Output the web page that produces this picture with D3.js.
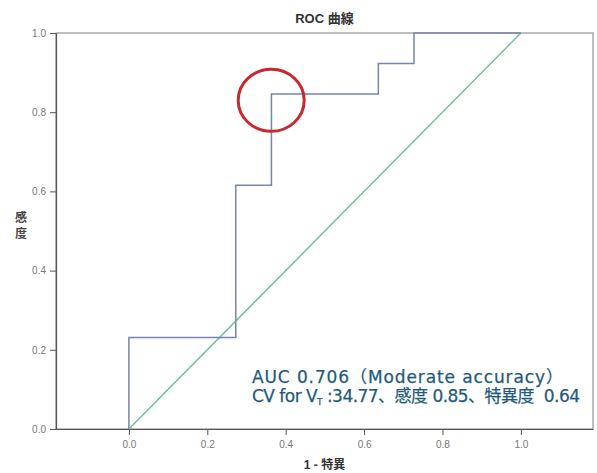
<!DOCTYPE html>
<html>
<head>
<meta charset="utf-8">
<script src="https://cdn.jsdelivr.net/npm/d3@7"></script>
<style>
  html, body { margin: 0; padding: 0; background: #ffffff; }
  svg { display: block; }
  .ann { white-space: pre; }
</style>
</head>
<body>
<svg id="chart" width="597" height="473"></svg>
<script>
// ---- data ----
const title = "ROC 曲線";
const xLabel = "1 - 特異";
const yLabel = ["感", "度"];
// ROC curve (1 - specificity, sensitivity)
const rocFpr = [0, 0, 0.2727, 0.2727, 0.3636, 0.3636, 0.6364, 0.6364, 0.7273, 0.7273, 1.0];
const rocTpr = [0, 0.2308, 0.2308, 0.6154, 0.6154, 0.8462, 0.8462, 0.9231, 0.9231, 1.0, 1.0];
// reference diagonal
const diagFpr = [0, 1];
const diagTpr = [0, 1];
const xTicks = [0, 0.2, 0.4, 0.6, 0.8, 1.0];
const yTicks = [0, 0.2, 0.4, 0.6, 0.8, 1.0];
const highlight = [0.363, 0.83]; // circled cut-off point
const annotation = ["AUC 0.706（Moderate accuracy）", "CV for V", "T", " :34.77、感度 0.85、特異度  0.64"];

// ---- layout ----
const plotL = 56, plotR = 593, plotT = 33, plotB = 429;
const svg = d3.select("#chart");
const x = d3.scaleLinear().domain([-0.186, 1.184]).range([plotL, plotR]);
const y = d3.scaleLinear().domain([0, 1]).range([plotB, plotT]);

// frame
svg.append("rect")
  .attr("x", plotL).attr("y", plotT)
  .attr("width", plotR - plotL).attr("height", plotB - plotT)
  .attr("fill", "#ffffff").attr("stroke", "#808080").attr("stroke-width", 1);

// axes
const fmt = d3.format(".1f");
const xAxis = svg.append("g").attr("transform", `translate(0,${plotB})`)
  .call(d3.axisBottom(x).tickValues(xTicks).tickFormat(fmt).tickSize(6).tickSizeOuter(0));
const yAxis = svg.append("g").attr("transform", `translate(${plotL},0)`)
  .call(d3.axisLeft(y).tickValues(yTicks).tickFormat(fmt).tickSize(6).tickSizeOuter(0));
[xAxis, yAxis].forEach(g => {
  g.select(".domain").attr("stroke", "#555").attr("stroke-width", 1.2);
  g.selectAll(".tick line").attr("stroke", "#555");
  g.selectAll(".tick text")
    .attr("fill", "#777").attr("font-size", 10)
    .attr("font-family", "Liberation Sans, Arial, sans-serif");
});
xAxis.selectAll(".tick text").attr("dy", "1.0em");
yAxis.selectAll(".tick text").attr("dx", "-1px");

// lines
const line = d3.line().x(d => x(d[0])).y(d => y(d[1]));
svg.append("path")
  .datum(diagFpr.map((v, i) => [v, diagTpr[i]]))
  .attr("d", line).attr("fill", "none")
  .attr("stroke", "#72c196").attr("stroke-width", 1.5);
svg.append("path")
  .datum(rocFpr.map((v, i) => [v, rocTpr[i]]))
  .attr("d", line).attr("fill", "none")
  .attr("stroke", "#7585ad").attr("stroke-width", 1.5);

// highlight circle
svg.append("ellipse")
  .attr("cx", x(highlight[0])).attr("cy", y(highlight[1]))
  .attr("rx", 33).attr("ry", 31)
  .attr("fill", "none").attr("stroke", "#c8282e").attr("stroke-width", 3);

// title
svg.append("text")
  .attr("x", (plotL + plotR) / 2).attr("y", 23)
  .attr("text-anchor", "middle")
  .attr("font-family", "Liberation Sans, 'Noto Sans CJK JP', sans-serif")
  .attr("font-weight", "bold").attr("font-size", 13).attr("fill", "#333")
  .text(title);

// x label
svg.append("text")
  .attr("x", (plotL + plotR) / 2).attr("y", 469)
  .attr("text-anchor", "middle")
  .attr("font-family", "Liberation Sans, 'Noto Sans CJK JP', sans-serif")
  .attr("font-weight", "bold").attr("font-size", 12).attr("fill", "#333")
  .text(xLabel);

// y label (stacked)
svg.append("g").selectAll("text").data(yLabel).join("text")
  .attr("x", 21).attr("y", (d, i) => 222 + i * 16)
  .attr("text-anchor", "middle")
  .attr("font-family", "'Noto Sans CJK JP', sans-serif")
  .attr("font-weight", "bold").attr("font-size", 12).attr("fill", "#444")
  .text(d => d);

// annotation
const annFont = "'DejaVu Sans', 'Noto Sans CJK JP', sans-serif";
const annColor = "#1f5b7a";
const a1 = svg.append("text").attr("class", "ann")
  .attr("x", 252).attr("y", 383)
  .attr("font-family", annFont).attr("font-size", 17).attr("fill", annColor)
  .attr("stroke", annColor).attr("stroke-width", 0.25)
  .text(annotation[0]);
const a2 = svg.append("text").attr("class", "ann")
  .attr("x", 252).attr("y", 402)
  .attr("font-family", annFont).attr("font-size", 17).attr("fill", annColor)
  .attr("stroke", annColor).attr("stroke-width", 0.25);
a2.append("tspan").text(annotation[1]);
a2.append("tspan").attr("font-size", 9).attr("dy", 3).text(annotation[2]);
a2.append("tspan").attr("dy", -3).text(annotation[3]);

// stretch each line to the width seen in the reference
function fit(sel, target, nChars) {
  const w = sel.node().getComputedTextLength();
  const ls = Math.max(-1.5, Math.min(3, (target - w) / (nChars - 1)));
  sel.attr("letter-spacing", ls);
}
fit(a1, 311, annotation[0].length);
fit(a2, 328, annotation[1].length + annotation[2].length + annotation[3].length);
</script>
</body>
</html>
